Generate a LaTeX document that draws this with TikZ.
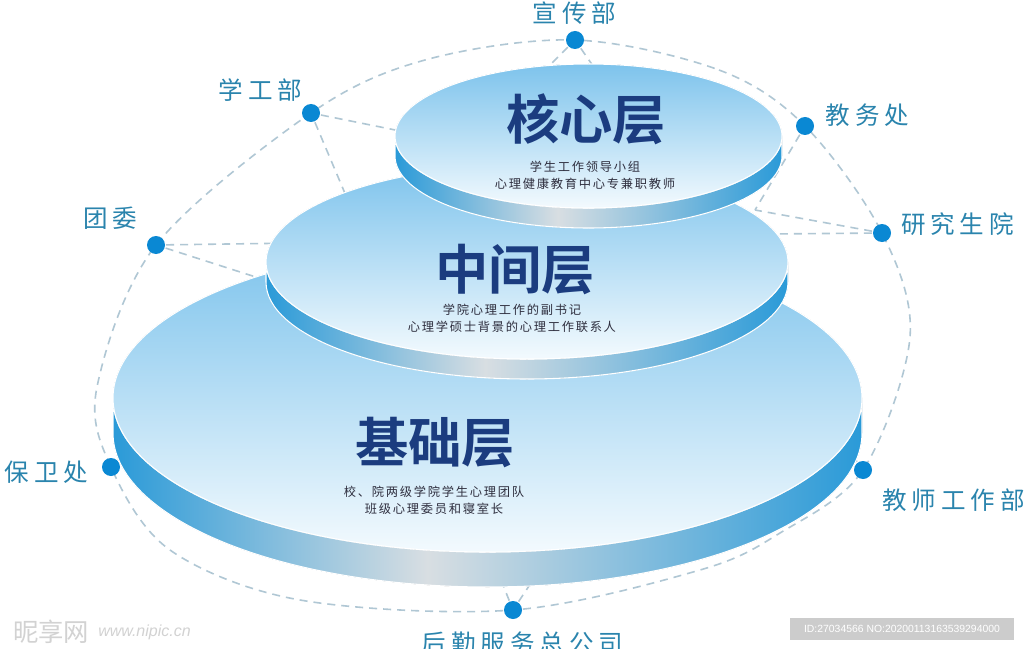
\documentclass[tikz,border=0pt]{standalone}
\usepackage{fontspec}
\newfontfamily\cjk[LetterSpace=20]{Noto Sans CJK SC}
\newfontfamily\cjksub[LetterSpace=14]{Noto Sans CJK SC}
\newfontfamily\cjkplain{Noto Sans CJK SC}
\newfontfamily\cjkbold{Noto Sans CJK SC Bold}
\newfontfamily\idfont{Liberation Sans}
\usetikzlibrary{calc}

\definecolor{faceTop}{HTML}{7DC3EC}
\definecolor{faceBot}{HTML}{F3FAFE}
\definecolor{sideBlue}{HTML}{2A9AD8}
\definecolor{sideLight}{HTML}{D8DEE2}
\definecolor{titleBlue}{HTML}{1B3C7F}
\definecolor{labelBlue}{HTML}{2A84AD}
\definecolor{dotBlue}{HTML}{0A88D3}
\definecolor{dashGray}{HTML}{B0C7D4}
\definecolor{subText}{HTML}{2E2E3E}

\pgfdeclarehorizontalshading{sideshade}{100bp}{color(0bp)=(sideBlue); color(25bp)=(sideBlue); color(46bp)=(sideLight); color(75bp)=(sideBlue); color(100bp)=(sideBlue)}

\newcommand\drawdisk[5]{%
  \fill[shading=sideshade, draw=white, line width=0.8pt]
    ({#1-#3},#2) arc[start angle=180, end angle=0, x radius=#3, y radius=#4]
    -- ++(0,#5) arc[start angle=0, end angle=180, x radius=#3, y radius=#4] -- cycle;
  \fill[top color=faceTop, bottom color=faceBot, draw=white, line width=0.8pt]
    (#1,#2) ellipse [x radius=#3, y radius=#4];
}

\tikzset{
  dashline/.style={draw=dashGray, line width=1.2pt, dash pattern=on 6pt off 4.5pt},
  dot/.style={circle, fill=dotBlue, draw=white, line width=1.2pt, minimum size=14pt, inner sep=0pt},
  lab/.style={text=labelBlue, font=\cjk\fontsize{18.4}{20}\selectfont, inner sep=0pt},
  title/.style={text=titleBlue, font=\cjkbold\fontsize{40}{40}\selectfont, inner sep=0pt},
  subtxt/.style={text=subText, font=\cjksub\fontsize{9.2}{12.8}\selectfont, align=center, inner sep=0pt},
}

\begin{document}
\begin{tikzpicture}[x=0.75pt, y=-0.75pt]
\useasboundingbox[fill=white] (0,0) rectangle (1024,649);

% outer nodes
\node[dot] (D1) at (575,40) {};
\node[dot] (D2) at (805,126) {};
\node[dot] (D3) at (882,233) {};
\node[dot] (D4) at (863,470) {};
\node[dot] (D5) at (513,610) {};
\node[dot] (D6) at (111,467) {};
\node[dot] (D7) at (156,245) {};
\node[dot] (D8) at (311,113) {};

% dashed ring
\draw[dashline] plot[smooth cycle, tension=0.55] coordinates {
  (575,40) (719,70) (805,126) (882,233) (910,337) (863,470) (780,533) (700,570)
  (513,610) (300,600) (170,550) (111,467) (97,387) (156,245) (311,113) (425,60)};

% spoke ends (hidden under disks)
\coordinate (s1a) at (540,75);
\coordinate (s1b) at (600,76);
\coordinate (s8a) at (430,137);
\coordinate (s8b) at (352,210);
\coordinate (s7a) at (300,243);
\coordinate (s7b) at (290,288);
\coordinate (J) at (755,210);
\coordinate (s3b) at (770,234);
\coordinate (s4) at (845,445);
\coordinate (s5a) at (503,585);
\coordinate (s5b) at (533,580);
\coordinate (s6) at (130,448);

\draw[dashline] (D1) -- (s1a);
\draw[dashline] (D1) -- (s1b);
\draw[dashline] (D8) -- (s8a);
\draw[dashline] (D8) -- (s8b);
\draw[dashline] (D7) -- (s7a);
\draw[dashline] (D7) -- (s7b);
\draw[dashline] (D2) -- (J);
\draw[dashline] (D3) -- (J);
\draw[dashline] (D3) -- (s3b);
\draw[dashline] (D4) -- (s4);
\draw[dashline] (D5) -- (s5a);
\draw[dashline] (D5) -- (s5b);
\draw[dashline] (D6) -- (s6);

% dots drawn over the lines
\foreach \d in {D1,D2,D3,D4,D5,D6,D7,D8}
  \fill[dotBlue] (\d) circle[radius=9];

% disks
\drawdisk{487.5}{398}{374.5}{154}{35}
\drawdisk{527}{262}{261}{97}{20}
\drawdisk{588.5}{136}{193.5}{72}{20}

% titles and texts
\node[title] (tCore) at (586,119) {核心层};
\node[subtxt] (sCore) at (585,175) {学生工作领导小组\\心理健康教育中心专兼职教师};
\node[title] (tMid) at (515,270) {中间层};
\node[subtxt] (sMid) at (512,318) {学院心理工作的副书记\\心理学硕士背景的心理工作联系人};
\node[title] (tBase) at (435,443) {基础层};
\node[subtxt] (sBase) at (434,500) {校、院两级学院学生心理团队\\班级心理委员和寝室长};

% labels
\node[lab] (l1) at (574.5,13) {宣传部};
\node[lab] (l8) at (260.5,90) {学工部};
\node[lab] (l2) at (867.5,115) {教务处};
\node[lab] (l7) at (110.5,218) {团委};
\node[lab] (l3) at (957.5,224) {研究生院};
\node[lab] (l6) at (46.5,472) {保卫处};
\node[lab] (l4) at (953.5,500) {教师工作部};
\node[lab] (l5) at (522.5,643) {后勤服务总公司};

% watermarks
\node[text=gray!35, font=\cjkplain\fontsize{19}{20}\selectfont, anchor=west, inner sep=0pt] (wm1) at (13,632) {昵享网};
\node[text=gray!35, font=\idfont\itshape\fontsize{12}{13}\selectfont, anchor=west, inner sep=0pt] (wm2) at (98,632) {www.nipic.cn};
\node[fill=gray!40, text=white, font=\idfont\fontsize{7.8}{8}\selectfont, minimum width=168pt, minimum height=16pt, inner sep=1pt] (idbox) at (902,629) {ID:27034566 NO:20200113163539294000};
\end{tikzpicture}
\end{document}
